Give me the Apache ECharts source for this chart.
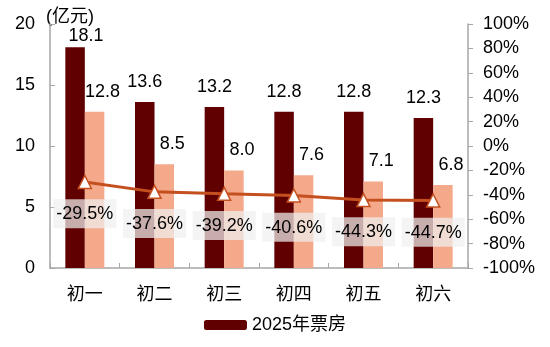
<!DOCTYPE html>
<html><head><meta charset="utf-8">
<script src="https://cdn.jsdelivr.net/npm/echarts@6/dist/echarts.min.js"></script>
<style>html,body{margin:0;padding:0;background:#fff}#c{width:550px;height:347px}</style>
</head><body><div id="c"></div>
<script>
var categories = ['初一','初二','初三','初四','初五','初六'];
var box2025 = [18.1, 13.6, 13.2, 12.8, 12.8, 12.3];
var box2024 = [12.8, 8.5, 8.0, 7.6, 7.1, 6.8];
var yoy = [-29.5, -37.6, -39.2, -40.6, -44.3, -44.7];
var leftTicks = [0, 20, 5];
var rightTicks = [-100, 100, 20];

var FONT = '"Liberation Sans", Arial, "Noto Sans CJK SC", sans-serif';
var FS = 18;
var fmt1 = function(p){ return Number(p.value).toFixed(1); };
// the tallest bar's label is nudged (as in the original) to clear the unit title
var darkData = box2025.map(function(v, i){
  return i === 0 ? {value: v, label: {offset: [11, 9]}} : v;
});
var chart = echarts.init(document.getElementById('c'));
chart.setOption({
  animation: false,
  textStyle: {fontFamily: FONT},
  grid: {left: 50, right: 82, top: 24, bottom: 79},
  legend: {
    bottom: 8, left: 'center', data: ['2025年票房'],
    itemWidth: 43, itemHeight: 10, itemGap: 4,
    textStyle: {fontSize: FS, color: '#000', fontFamily: FONT}
  },
  xAxis: {
    type: 'category', data: categories,
    axisLine: {lineStyle: {color: '#a6a6a6', width: 1.5}},
    axisTick: {show: true, inside: true, length: 5, lineStyle: {color: '#a6a6a6'}},
    axisLabel: {fontSize: FS, color: '#000', margin: 18, fontFamily: FONT}
  },
  yAxis: [{
    type: 'value', min: leftTicks[0], max: leftTicks[1], interval: leftTicks[2],
    name: '(亿元)', nameLocation: 'end', nameGap: -2,
    nameTextStyle: {fontSize: FS, color: '#000', align: 'left', padding: [0, 0, 0, -4], fontFamily: FONT},
    axisLine: {show: true, lineStyle: {color: '#a6a6a6', width: 1.5}},
    axisTick: {show: true, inside: true, length: 5, lineStyle: {color: '#a6a6a6'}},
    axisLabel: {fontSize: FS, color: '#000', margin: 15, fontFamily: FONT},
    splitLine: {show: false}
  }, {
    type: 'value', min: rightTicks[0], max: rightTicks[1], interval: rightTicks[2],
    position: 'right',
    axisLine: {show: true, lineStyle: {color: '#a6a6a6', width: 1.5}},
    axisTick: {show: true, length: 5, lineStyle: {color: '#a6a6a6'}},
    axisLabel: {fontSize: FS, color: '#000', margin: 15, formatter: '{value}%', fontFamily: FONT},
    splitLine: {show: false}
  }],
  series: [{
    name: '2025年票房', type: 'bar', data: darkData,
    barWidth: 19.5, barGap: '0%',
    itemStyle: {color: '#600000'},
    label: {show: true, position: 'top', fontSize: FS, color: '#000', distance: 11, formatter: fmt1}
  }, {
    name: '2024年票房', type: 'bar', data: box2024,
    barWidth: 19.5, barGap: '0%',
    itemStyle: {color: '#F4A98A'},
    label: {show: true, position: 'top', fontSize: FS, color: '#000', distance: 11, offset: [8, 0], formatter: fmt1}
  }, {
    name: '同比', type: 'line', yAxisIndex: 1, data: yoy,
    symbol: 'triangle', symbolSize: 13,
    lineStyle: {color: '#C5501F', width: 3},
    itemStyle: {color: '#fff', borderColor: '#C5501F', borderWidth: 1.5},
    label: {
      show: true, position: 'bottom', distance: 10, fontSize: FS, color: '#000',
      formatter: function(p){return p.value.toFixed(1) + '%';},
      backgroundColor: 'rgba(240,240,240,0.72)', padding: [6, 3, 5, 3]
    },
    z: 5
  }]
});
</script></body></html>
